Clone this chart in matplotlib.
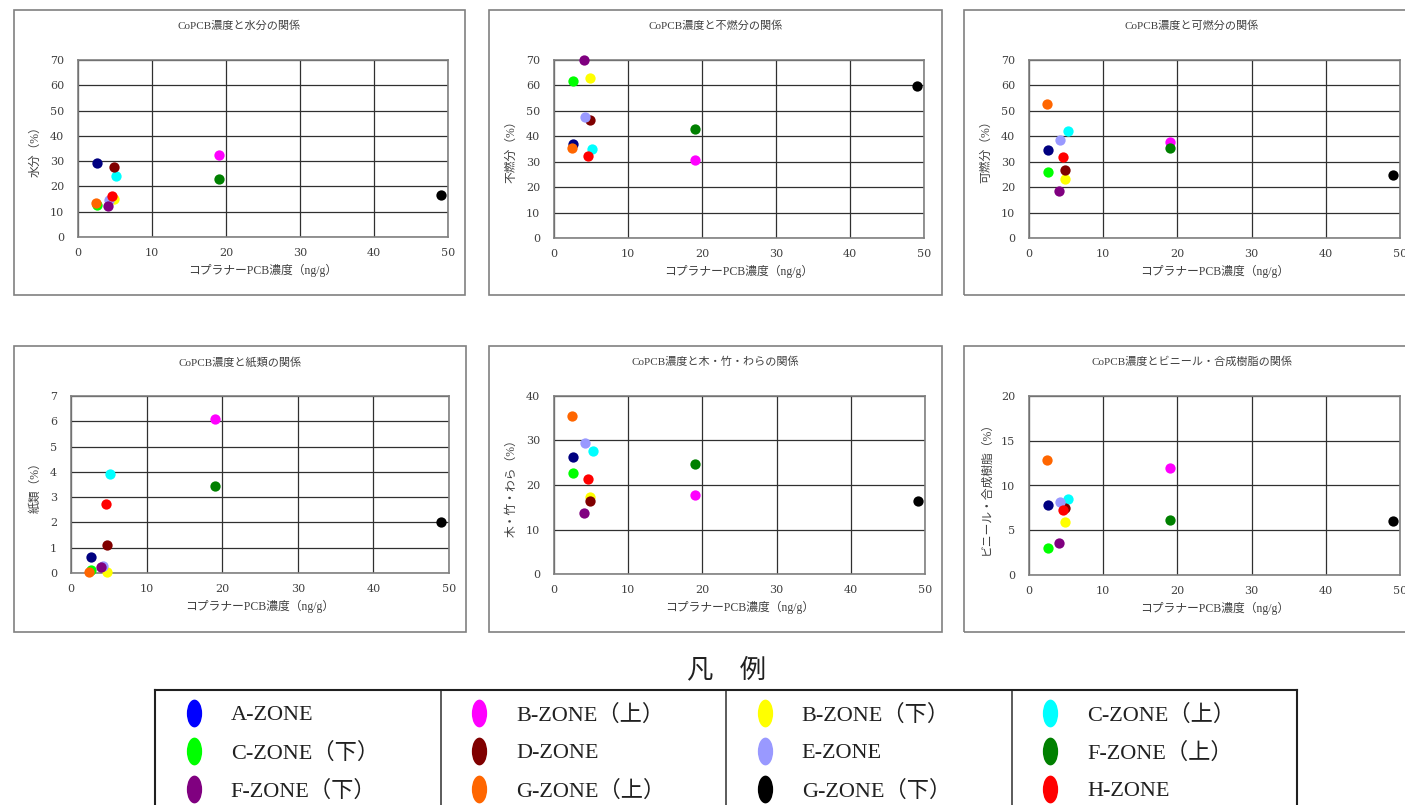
import matplotlib
matplotlib.use('Agg')
import matplotlib.pyplot as plt
from matplotlib.patches import Rectangle
from matplotlib.path import Path
from matplotlib.transforms import Affine2D

plt.rcParams['font.family'] = ['Noto Sans CJK JP', 'DejaVu Sans']
serif = ['Liberation Serif', 'Noto Sans CJK JP']
digits = ['DejaVu Serif']

W, H = 1405, 805

# zones (legend order)
zones = ['A-ZONE', 'B-ZONE（上）', 'B-ZONE（下）', 'C-ZONE（上）',
         'C-ZONE（下）', 'D-ZONE', 'E-ZONE', 'F-ZONE（上）',
         'F-ZONE（下）', 'G-ZONE（上）', 'G-ZONE（下）', 'H-ZONE']
point_colors = ['#000080', '#FF00FF', '#FFFF00', '#00FFFF',
                '#00FF00', '#800000', '#9999FF', '#008000',
                '#800080', '#FF6600', '#000000', '#FF0000']
legend_colors = ['#0000FF'] + point_colors[1:]

# コプラナーPCB濃度 (ng/g)
copcb = [2.6, 19.0, 4.8, 5.2, 2.6, 4.8, 4.2, 19.0, 4.0, 2.4, 49.0, 4.6]

water = [29.3, 32.5, 15.0, 24.3, 12.5, 27.5, 14.5, 22.8, 12.3, 13.5, 16.7, 16.3]
incomb = [37.0, 30.7, 63.0, 35.0, 61.8, 46.5, 47.5, 43.0, 70.0, 35.3, 59.8, 32.2]
comb = [34.5, 37.8, 23.2, 42.0, 26.0, 26.7, 38.5, 35.2, 18.5, 52.5, 24.7, 31.7]
paper = [0.62, 6.1, 0.02, 3.93, 0.12, 1.12, 0.28, 3.43, 0.25, 0.02, 2.0, 2.72]
wood = [26.2, 17.7, 17.3, 27.6, 22.6, 16.3, 29.5, 24.8, 13.7, 35.6, 16.3, 21.4]
vinyl = [7.8, 12.0, 5.9, 8.5, 3.0, 7.5, 8.2, 6.1, 3.6, 12.9, 6.0, 7.3]

titles = ['CoPCB濃度と水分の関係', 'CoPCB濃度と不燃分の関係', 'CoPCB濃度と可燃分の関係',
          'CoPCB濃度と紙類の関係', 'CoPCB濃度と木・竹・わらの関係',
          'CoPCB濃度とビニール・合成樹脂の関係']
ylabels = ['水分（%）', '不燃分（%）', '可燃分（%）', '紙類（%）',
           '木・竹・わら（%）', 'ビニール・合成樹脂（%）']
series = [water, incomb, comb, paper, wood, vinyl]
ymax = [70, 70, 70, 7, 40, 20]
ystep = [10, 10, 10, 1, 10, 5]

# pixel layout: frame box and plot box
frames = [(14, 10, 465, 295), (489, 10, 942, 295), (964, 10, 1420, 295),
          (14, 346, 466, 632), (489, 346, 942, 632), (964, 346, 1420, 632)]
plots = [(78, 60, 448, 237), (554, 60, 924, 238), (1029, 60, 1400, 238),
         (71, 396, 449, 573), (554, 396, 925, 574), (1029, 396, 1400, 575)]


def fbox(x1, y1, x2, y2):
    return [x1 / W, 1 - y2 / H, (x2 - x1) / W, (y2 - y1) / H]


fig = plt.figure(figsize=(W / 100, H / 100), dpi=100)

txt = '#404040'
for i in range(6):
    fx1, fy1, fx2, fy2 = frames[i]
    fig.add_artist(Rectangle((fx1 / W, 1 - fy2 / H), (fx2 - fx1) / W, (fy2 - fy1) / H,
                             transform=fig.transFigure, fill=False,
                             edgecolor='#808080', linewidth=1.2))
    fig.text((fx1 + fx2) / 2 / W, 1 - (fy1 + 16) / H, titles[i], ha='center', va='center',
             fontsize=8, color=txt, family=serif)

    ax = fig.add_axes(fbox(*plots[i]))
    for x, y, c in zip(copcb, series[i], point_colors):
        ax.scatter(x, y, s=55, color=c, zorder=3, clip_on=False, linewidths=0)
    ax.set_xlim(0, 50)
    ax.set_ylim(0, ymax[i])
    ax.set_xticks(range(0, 51, 10))
    ax.set_yticks([ystep[i] * k for k in range(int(ymax[i] / ystep[i]) + 1)])
    ax.grid(True, color='#303030', linewidth=0.9)
    ax.set_axisbelow(True)
    ax.tick_params(length=0, labelsize=8, colors=txt)
    ax.tick_params(axis='y', pad=10)
    ax.tick_params(axis='x', pad=8)
    for lab in ax.get_xticklabels() + ax.get_yticklabels():
        lab.set_family(digits)
    for s in ax.spines.values():
        s.set_color('#808080')
        s.set_linewidth(1.2)
    ax.set_xlabel('コプラナーPCB濃度（ng/g）', fontsize=8.5, color=txt, labelpad=4, family=serif)
    ax.set_ylabel(ylabels[i], fontsize=8.5, color=txt, labelpad=6, family=serif)

# legend
fig.text(727 / W, 1 - 670 / H, '凡　例', ha='center', va='center', fontsize=19, color='#202020')
lax = fig.add_axes(fbox(155, 690, 1297, 823))
lax.set_xlim(0, 4)
lax.set_ylim(3.5, 0)
lax.set_xticks([])
lax.set_yticks([])
for s in lax.spines.values():
    s.set_color('#202020')
    s.set_linewidth(1.5)
for k in range(1, 4):
    lax.axvline(k, color='#404040', linewidth=1.2)

ell = Path.unit_circle().transformed(Affine2D().scale(0.55, 1.0))
for i, name in enumerate(zones):
    col, row = i % 4, i // 4
    lax.scatter(col + 0.135, row + 0.6, marker=ell, s=400, color=legend_colors[i], linewidths=0)
    lax.text(col + 0.265, row + 0.6 + 0.2, name, va='baseline', ha='left', fontsize=16,
             color='#202020', family=serif)

fig.savefig('out.png', dpi=100)
